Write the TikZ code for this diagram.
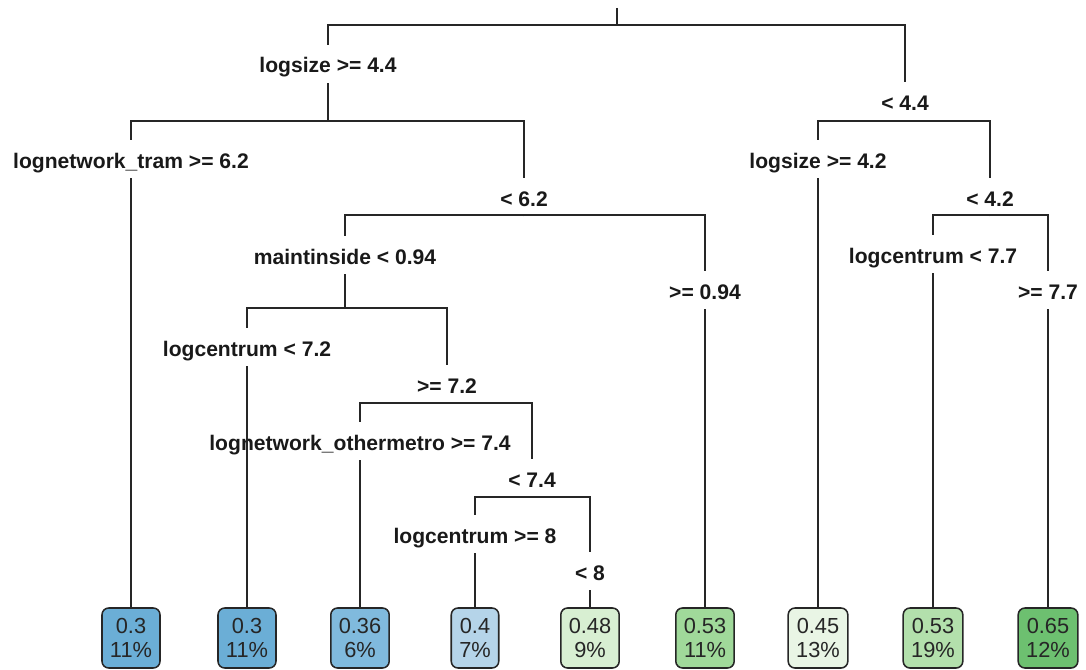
\documentclass[tikz,border=0pt]{standalone}
\usepackage{fontspec}
\setmainfont{Liberation Sans}

\definecolor{leafbA}{HTML}{6BAED6}
\definecolor{leafbB}{HTML}{80BADD}
\definecolor{leafbC}{HTML}{B5D4E9}
\definecolor{leafgA}{HTML}{D8EFD2}
\definecolor{leafgB}{HTML}{A0D99A}
\definecolor{leafgC}{HTML}{E9F5E5}
\definecolor{leafgD}{HTML}{B3E0AC}
\definecolor{leafgE}{HTML}{6DC070}

\tikzset{
  branch/.style={line width=1.2pt,black!85},
  split/.style={anchor=base,font=\fontsize{15}{17}\bfseries\selectfont,text=black!90,
    text height=0.55cm,text depth=0.1cm,inner ysep=0.15cm,inner xsep=0pt},
  leaf/.style={draw,line width=1.1pt,black!85,rounded corners=0.17cm,align=center,
    font=\fontsize{15.5}{17}\selectfont,text=black!85,minimum height=1.5cm,
    inner xsep=0.2cm,inner ysep=0pt}
}

\begin{document}
\begin{tikzpicture}[x=0.025cm,y=-0.025cm]
        \useasboundingbox (0,0) rectangle (1086,670);
        \coordinate (top) at (617,8);
        \coordinate (j1) at (617,25);
        \node[split] (t2) at (328,73) {logsize >= 4.4};
        \node[split] (t3) at (905,110) {< 4.4};
        \coordinate (j2) at (328,121);
        \coordinate (j3) at (905,121);
        \node[split] (t4) at (131,168) {lognetwork\_tram >= 6.2};
        \node[split] (t5) at (524,206) {< 6.2};
        \node[split] (t6) at (818,168) {logsize >= 4.2};
        \node[split] (t7) at (990,206) {< 4.2};
        \coordinate (j5) at (524,215);
        \coordinate (j7) at (990,215);
        \node[split] (t10) at (345,264) {maintinside < 0.94};
        \node[split] (t11) at (705,299) {>= 0.94};
        \node[split] (t14) at (933,263) {logcentrum < 7.7};
        \node[split] (t15) at (1048,299) {>= 7.7};
        \coordinate (j10) at (345,308);
        \node[split] (t20) at (247,356) {logcentrum < 7.2};
        \node[split] (t21) at (447,393) {>= 7.2};
        \coordinate (j21) at (447,403);
        \node[split] (t42) at (360,450) {lognetwork\_othermetro >= 7.4};
        \node[split] (t43) at (532,487) {< 7.4};
        \coordinate (j43) at (532,497);
        \node[split] (t86) at (475,543) {logcentrum >= 8};
        \node[split] (t87) at (590,580) {< 8};
        \node[leaf,fill=leafbA] (lf4) at (131,638) {0.3\\11\%};
        \node[leaf,fill=leafbA] (lf20) at (247,638) {0.3\\11\%};
        \node[leaf,fill=leafbB] (lf42) at (360,638) {0.36\\6\%};
        \node[leaf,fill=leafbC] (lf86) at (475,638) {0.4\\7\%};
        \node[leaf,fill=leafgA] (lf87) at (590,638) {0.48\\9\%};
        \node[leaf,fill=leafgB] (lf11) at (705,638) {0.53\\11\%};
        \node[leaf,fill=leafgC] (lf6) at (818,638) {0.45\\13\%};
        \node[leaf,fill=leafgD] (lf14) at (933,638) {0.53\\19\%};
        \node[leaf,fill=leafgE] (lf15) at (1048,638) {0.65\\12\%};
        \draw[branch] (top) -- (j1);
        \draw[branch] (j1) -| (t2.north);
        \draw[branch] (j1) -| (t3.north);
        \draw[branch] (t2.south) -- (j2);
        \draw[branch] (t3.south) -- (j3);
        \draw[branch] (j2) -| (t4.north);
        \draw[branch] (j2) -| (t5.north);
        \draw[branch] (j3) -| (t6.north);
        \draw[branch] (j3) -| (t7.north);
        \draw[branch] (t4.south) -- (lf4.north);
        \draw[branch] (t6.south) -- (lf6.north);
        \draw[branch] (t5.south) -- (j5);
        \draw[branch] (t7.south) -- (j7);
        \draw[branch] (j5) -| (t10.north);
        \draw[branch] (j5) -| (t11.north);
        \draw[branch] (j7) -| (t14.north);
        \draw[branch] (j7) -| (t15.north);
        \draw[branch] (t11.south) -- (lf11.north);
        \draw[branch] (t14.south) -- (lf14.north);
        \draw[branch] (t15.south) -- (lf15.north);
        \draw[branch] (t10.south) -- (j10);
        \draw[branch] (j10) -| (t20.north);
        \draw[branch] (j10) -| (t21.north);
        \draw[branch] (t20.south) -- (lf20.north);
        \draw[branch] (t21.south) -- (j21);
        \draw[branch] (j21) -| (t42.north);
        \draw[branch] (j21) -| (t43.north);
        \draw[branch] (t42.south) -- (lf42.north);
        \draw[branch] (t43.south) -- (j43);
        \draw[branch] (j43) -| (t86.north);
        \draw[branch] (j43) -| (t87.north);
        \draw[branch] (t86.south) -- (lf86.north);
        \draw[branch] (t87.south) -- (lf87.north);
\end{tikzpicture}
\end{document}
